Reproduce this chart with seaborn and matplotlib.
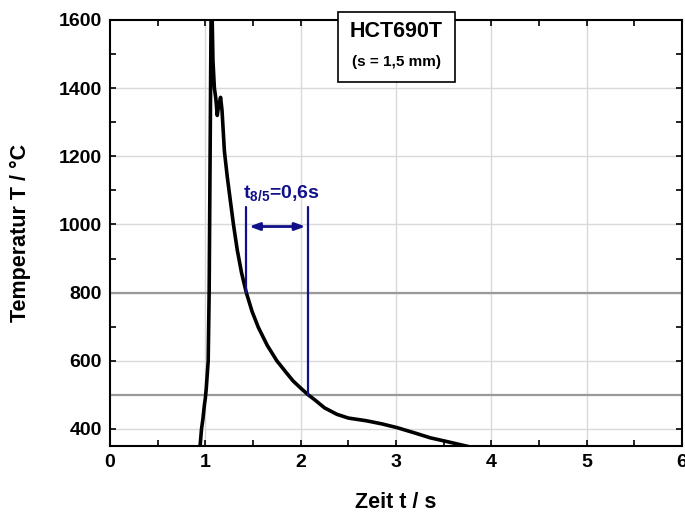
#!/usr/bin/env python3
"""Temperature-time cycle (HCT690T, s = 1,5 mm) with t8/5 annotation."""

import matplotlib
matplotlib.use("Agg")
import matplotlib.pyplot as plt
from matplotlib.patches import Rectangle
from matplotlib.ticker import MultipleLocator
import numpy as np
import pandas as pd
import seaborn as sns

zeit = [0.945, 0.96, 0.975, 0.99, 1.0, 1.01, 1.02, 1.03, 1.035, 1.04, 1.045, 1.05, 1.055,
        1.06, 1.065, 1.072, 1.08, 1.095, 1.11, 1.125, 1.14, 1.16, 1.175, 1.2, 1.23, 1.26,
        1.295, 1.335, 1.38, 1.43, 1.49, 1.556, 1.65, 1.75, 1.85, 1.92, 2.0, 2.08, 2.15, 2.25,
        2.38, 2.5, 2.69, 2.85, 3.01, 3.2, 3.36, 3.55, 3.78]
temperatur = [350, 400, 430, 470, 490, 520, 560, 600, 700, 800, 1000, 1200, 1400,
              1600, 1680, 1600, 1480, 1400, 1370, 1320, 1350, 1373, 1335, 1215, 1140, 1075,
              1000, 925, 858, 800, 745, 698, 645, 600, 565, 541, 520, 500, 485, 462,
              443, 432, 424, 415, 404, 388, 374, 362, 347]

T_UPPER, T_LOWER = 800, 500
x_ticks = [0, 1, 2, 3, 4, 5, 6]
y_ticks = [400, 600, 800, 1000, 1200, 1400, 1600]

NAVY = "#10108a"
GRID = "#d9d9d9"


def t85_times(t, T):
    """Crossing times of 800 and 500 °C on the cooling branch."""
    t, T = np.asarray(t), np.asarray(T)
    peak = int(np.argmax(T))
    tc, Tc = t[peak:][::-1], T[peak:][::-1]
    return np.interp(T_UPPER, Tc, tc), np.interp(T_LOWER, Tc, tc)


def main() -> None:
    sns.set_style("ticks")
    plt.rcParams["font.family"] = ["Liberation Sans", "DejaVu Sans"]
    plt.rcParams["font.weight"] = "bold"
    plt.rcParams["text.color"] = "black"
    plt.rcParams["axes.labelcolor"] = "black"
    plt.rcParams["xtick.color"] = "black"
    plt.rcParams["ytick.color"] = "black"
    plt.rcParams["mathtext.fontset"] = "custom"
    plt.rcParams["mathtext.rm"] = "Liberation Sans:bold"
    plt.rcParams["mathtext.it"] = "Liberation Sans:bold"
    plt.rcParams["mathtext.bf"] = "Liberation Sans:bold"

    df = pd.DataFrame({"Zeit": zeit, "Temperatur": temperatur})

    fig = plt.figure(figsize=(6.85, 5.13), dpi=100)
    ax = fig.add_axes([110 / 685, 1 - 446 / 513, 572 / 685, 426 / 513])

    # grid + t8/5 reference levels
    for x in x_ticks[1:-1]:
        ax.axvline(x, color=GRID, lw=1, zorder=0)
    for y in y_ticks[:-1]:
        ax.axhline(y, color=GRID, lw=1, zorder=0)
    for y in (T_UPPER, T_LOWER):
        ax.axhline(y, color="#999999", lw=1.6, zorder=1)

    sns.lineplot(data=df, x="Zeit", y="Temperatur", sort=False, estimator=None,
                 color="black", lw=2.6, ax=ax, zorder=3)

    ax.set_xlim(0, 6)
    ax.set_ylim(350, 1600)
    ax.set_xticks(x_ticks)
    ax.set_yticks(y_ticks)
    ax.xaxis.set_minor_locator(MultipleLocator(0.5))
    ax.yaxis.set_minor_locator(MultipleLocator(100))
    ax.tick_params(which="both", direction="in", top=True, right=True, length=4,
                   width=1.2, labelsize=14, pad=6, colors="black")
    for lab in ax.get_xticklabels() + ax.get_yticklabels():
        lab.set_fontweight("bold")
    for sp in ax.spines.values():
        sp.set_linewidth(1.5)
        sp.set_color("black")

    ax.set_xlabel("Zeit t / s", fontsize=15.5, fontweight="bold", color="black")
    ax.set_ylabel("Temperatur T / °C", fontsize=15.5, fontweight="bold", color="black")
    ax.xaxis.set_label_coords(0.5, -0.108)
    ax.yaxis.set_label_coords(-0.138, 0.5)

    # t8/5 annotation
    t8, t5 = t85_times(zeit, temperatur)
    ax.plot([t8, t8], [T_UPPER, 1050], color=NAVY, lw=1.6, zorder=4)
    ax.plot([t5, t5], [T_LOWER, 1050], color=NAVY, lw=1.6, zorder=4)
    ax.annotate("", xy=(t5 - 0.03, 994), xytext=(t8 + 0.03, 994),
                arrowprops=dict(arrowstyle="<|-|>,head_length=0.6,head_width=0.22",
                                color=NAVY, lw=2, shrinkA=0, shrinkB=0), zorder=4)
    ax.text(t8 - 0.035, 1079, r"t$_{8/5}$=0,6s", color=NAVY, fontsize=14,
            fontweight="bold", ha="left", va="baseline", zorder=4)

    # material box
    ax.add_patch(Rectangle((2.392, 1418), 1.228, 205, facecolor="white", edgecolor="black",
                           lw=1.2, clip_on=False, zorder=6))
    ax.text(3.006, 1567, "HCT690T", fontsize=15.5, fontweight="bold",
            ha="center", va="center", zorder=7)
    ax.text(3.006, 1477, "(s = 1,5 mm)", fontsize=11, fontweight="bold",
            ha="center", va="center", zorder=7)

    fig.savefig("out.png", dpi=100)
    plt.close(fig)


if __name__ == "__main__":
    main()
